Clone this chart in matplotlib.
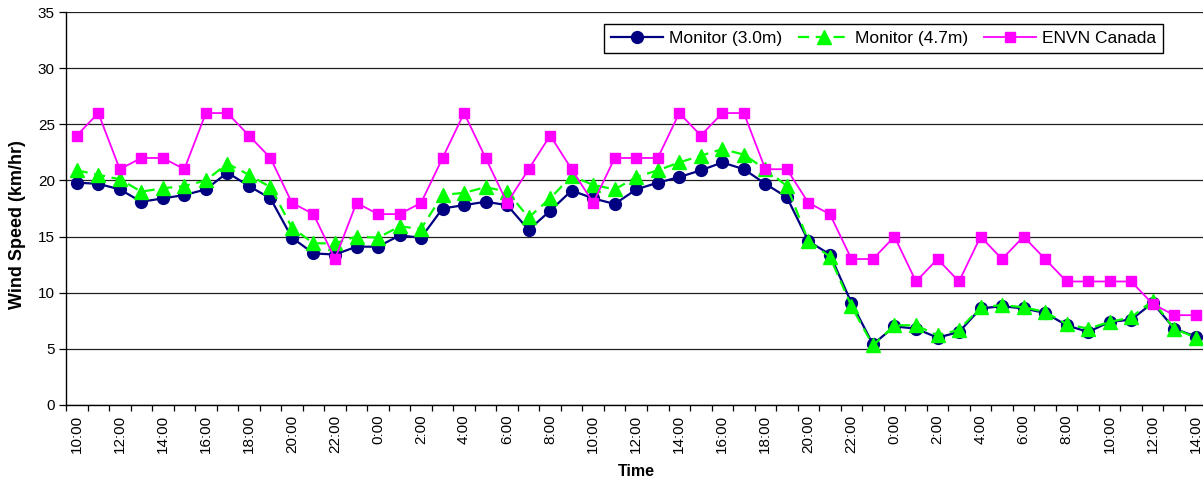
import numpy as np
import matplotlib
matplotlib.use('Agg')
import matplotlib.pyplot as plt

plt.rcParams['font.family'] = ['Liberation Sans', 'DejaVu Sans']

# hourly readings, 10:00 on day 1 through 14:00 on day 3
hours = [(10 + i) % 24 for i in range(53)]
tick_labels = [f"{h}:00" for h in hours]

monitor_30 = [19.8, 19.7, 19.2, 18.1, 18.4, 18.7, 19.2, 20.7, 19.5, 18.4,
              14.9, 13.5, 13.4, 14.1, 14.1, 15.1, 14.9, 17.5, 17.8, 18.1,
              17.8, 15.6, 17.3, 19.1, 18.4, 17.9, 19.2, 19.8, 20.3, 20.9,
              21.6, 21.0, 19.7, 18.5, 14.6, 13.4, 9.1, 5.4, 7.0, 6.8,
              6.0, 6.5, 8.6, 8.8, 8.6, 8.2, 7.1, 6.5, 7.4, 7.6,
              9.1, 6.8, 6.1]

monitor_47 = [20.9, 20.5, 20.1, 19.0, 19.3, 19.5, 20.0, 21.5, 20.5, 19.4,
              15.8, 14.4, 14.4, 15.0, 14.9, 15.9, 15.7, 18.7, 18.9, 19.4,
              19.0, 16.7, 18.4, 20.4, 19.6, 19.2, 20.3, 20.9, 21.6, 22.2,
              22.8, 22.3, 21.0, 19.5, 14.6, 13.2, 8.8, 5.3, 7.1, 7.1,
              6.2, 6.7, 8.7, 8.9, 8.7, 8.3, 7.2, 6.8, 7.4, 7.8,
              9.3, 6.8, 6.0]

envn = [24, 26, 21, 22, 22, 21, 26, 26, 24, 22,
        18, 17, 13, 18, 17, 17, 18, 22, 26, 22,
        18, 21, 24, 21, 18, 22, 22, 22, 26, 24,
        26, 26, 21, 21, 18, 17, 13, 13, 15, 11,
        13, 11, 15, 13, 15, 13, 11, 11, 11, 11,
        9, 8, 8]

x = np.arange(len(hours))

fig = plt.figure(figsize=(12.03, 4.82), dpi=100)
ax = fig.add_axes([66 / 1203, 1 - 405 / 482, (1206.5 - 66) / 1203, (405 - 12) / 482])

ax.plot(x, monitor_30, color='#000080', lw=1.6, marker='o', ms=8.5,
        mec='#000080', mfc='#000080', label='Monitor (3.0m)', zorder=3)
ax.plot(x, monitor_47, color='#00FF00', lw=1.6, ls=(0, (5, 3)), marker='^', ms=9.5,
        mec='#00FF00', mfc='#00FF00', label='Monitor (4.7m)', zorder=4)
ax.plot(x, envn, color='#FF00FF', lw=1.3, marker='s', ms=7,
        mec='#FF00FF', mfc='#FF00FF', label='ENVN Canada', zorder=5)

ax.set_xlim(-0.5, len(hours) - 0.5)
ax.set_ylim(0, 35)
ax.set_yticks(np.arange(0, 36, 5))
ax.yaxis.grid(True, color='#202020', lw=0.9)
ax.set_axisbelow(True)

# category axis: ticks between hours, labels every second hour
ax.set_xticks(np.arange(-0.5, len(hours), 1), minor=True)
ax.set_xticks(x[::2])
ax.set_xticklabels(tick_labels[::2], rotation=90)
ax.tick_params(axis='x', which='major', length=0, pad=7, labelsize=11)
ax.tick_params(axis='x', which='minor', length=4, width=0.9, direction='out')
ax.tick_params(axis='y', length=5, width=0.9, labelsize=11, pad=3)

for side in ['top', 'right']:
    ax.spines[side].set_visible(False)
ax.spines['left'].set_linewidth(1)
ax.spines['bottom'].set_linewidth(1)

ax.set_ylabel('Wind Speed (km/hr)', fontsize=13, fontweight='bold')
ax.yaxis.set_label_coords((26 - 66) / 1140.5, 0.46)
ax.set_xlabel('Time', fontsize=11.5, fontweight='bold', labelpad=8)

leg = ax.legend(loc='upper right', bbox_to_anchor=(1163 / 1203, 1 - 24 / 482),
                bbox_transform=fig.transFigure, ncol=3, fontsize=12.5,
                frameon=True, fancybox=False, edgecolor='black', framealpha=1,
                handlelength=3.0, handletextpad=0.33, columnspacing=0.9,
                borderpad=0.4, borderaxespad=0)
leg.get_frame().set_linewidth(1)

fig.savefig('out.png', dpi=100)
